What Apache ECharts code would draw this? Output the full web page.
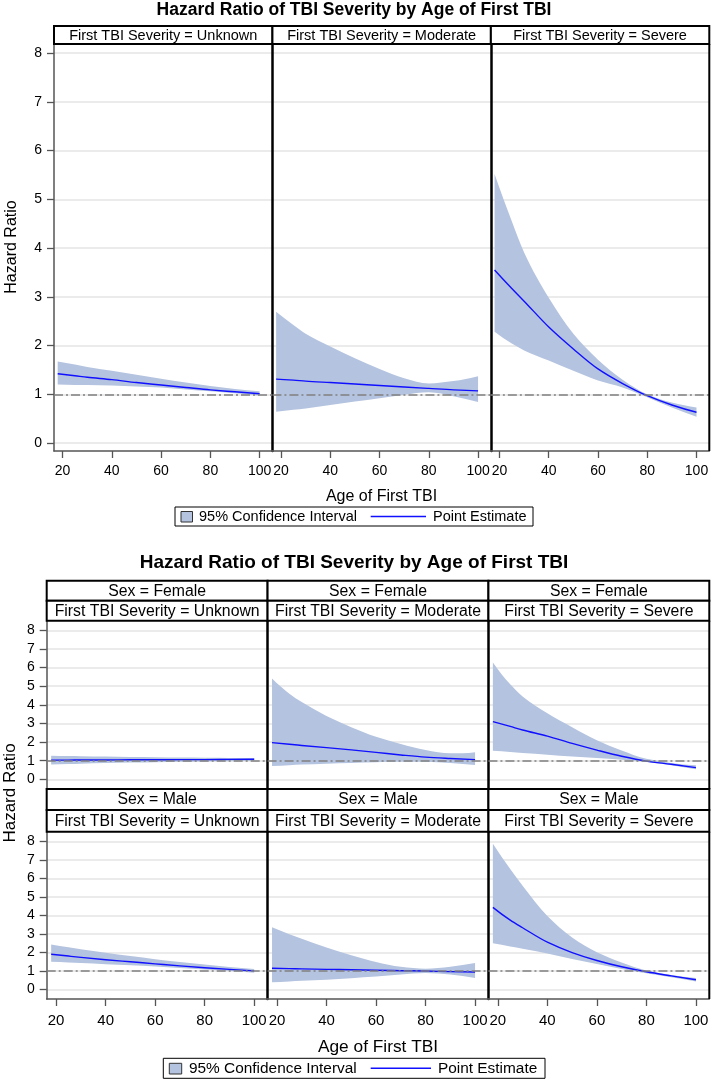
<!DOCTYPE html>
<html>
<head>
<meta charset="utf-8">
<script src="https://cdn.jsdelivr.net/npm/echarts@6/dist/echarts.min.js"></script>
<style>
html,body{margin:0;padding:0;background:#fff;}
#c{width:712px;height:1081px;}
</style>
</head>
<body>
<div id="c"></div>
<script>
// ================= DATA =================
const chartTitle = 'Hazard Ratio of TBI Severity by Age of First TBI';
const xAxisTitle = 'Age of First TBI';
const yAxisTitle = 'Hazard Ratio';
const severityLevels = ['Unknown', 'Moderate', 'Severe'];
const sexLevels = ['Female', 'Male'];
const legendLabels = ['95% Confidence Interval', 'Point Estimate'];
const ages = [18, 25, 30, 40, 50, 60, 70, 80, 90, 100];
const xTickValues = [20, 40, 60, 80, 100];
const yTickValues = [0, 1, 2, 3, 4, 5, 6, 7, 8];
const referenceHR = 1;

// Overall panels
const unkEst = [1.42, 1.38, 1.35, 1.30, 1.24, 1.19, 1.14, 1.09, 1.05, 1.01];
const unkLo  = [1.20, 1.19, 1.19, 1.18, 1.16, 1.14, 1.10, 1.06, 1.02, 0.97];
const unkHi  = [1.67, 1.61, 1.56, 1.48, 1.40, 1.32, 1.24, 1.17, 1.11, 1.06];
const modEst = [1.31, 1.29, 1.27, 1.24, 1.21, 1.18, 1.15, 1.12, 1.09, 1.07];
const modLo  = [0.64, 0.68, 0.71, 0.78, 0.85, 0.92, 0.99, 1.04, 0.96, 0.84];
const modHi  = [2.69, 2.42, 2.24, 1.98, 1.74, 1.52, 1.33, 1.22, 1.27, 1.37];
const sevEst = [3.55, 3.17, 2.91, 2.38, 1.93, 1.52, 1.22, 0.97, 0.78, 0.63];
const sevLo  = [2.28, 2.04, 1.90, 1.69, 1.48, 1.28, 1.14, 0.94, 0.73, 0.54];
const sevHi  = [5.52, 4.55, 3.91, 2.98, 2.24, 1.71, 1.30, 1.00, 0.83, 0.73];

// Female panels
const fUnkEst = [1.03, 1.03, 1.04, 1.04, 1.05, 1.05, 1.06, 1.06, 1.07, 1.08];
const fUnkLo  = [0.79, 0.82, 0.84, 0.87, 0.90, 0.92, 0.94, 0.96, 0.97, 0.98];
const fUnkHi  = [1.27, 1.25, 1.24, 1.22, 1.20, 1.19, 1.17, 1.16, 1.15, 1.14];
const fModEst = [1.97, 1.88, 1.82, 1.70, 1.58, 1.45, 1.31, 1.19, 1.12, 1.06];
const fModLo  = [0.72, 0.76, 0.79, 0.84, 0.88, 0.92, 0.94, 0.94, 0.88, 0.77];
const fModHi  = [5.41, 4.60, 4.15, 3.40, 2.80, 2.28, 1.90, 1.58, 1.40, 1.46];
const fSevEst = [3.10, 2.84, 2.65, 2.32, 1.93, 1.57, 1.24, 0.98, 0.81, 0.63];
const fSevLo  = [1.54, 1.47, 1.41, 1.32, 1.22, 1.14, 1.05, 0.93, 0.76, 0.54];
const fSevHi  = [6.28, 5.10, 4.45, 3.55, 2.80, 2.10, 1.55, 1.10, 0.88, 0.75];

// Male panels
const mUnkEst = [1.90, 1.80, 1.73, 1.60, 1.49, 1.38, 1.27, 1.17, 1.08, 1.00];
const mUnkLo  = [1.49, 1.45, 1.42, 1.36, 1.30, 1.24, 1.16, 1.08, 0.99, 0.90];
const mUnkHi  = [2.42, 2.27, 2.17, 1.98, 1.80, 1.63, 1.48, 1.34, 1.21, 1.10];
const mModEst = [1.14, 1.12, 1.11, 1.08, 1.06, 1.03, 1.01, 0.99, 0.96, 0.94];
const mModLo  = [0.38, 0.42, 0.46, 0.52, 0.60, 0.69, 0.80, 0.88, 0.80, 0.62];
const mModHi  = [3.36, 2.98, 2.73, 2.26, 1.85, 1.48, 1.22, 1.12, 1.22, 1.42];
const mSevEst = [4.43, 3.74, 3.33, 2.55, 1.99, 1.56, 1.22, 0.95, 0.73, 0.52];
const mSevLo  = [2.49, 2.32, 2.20, 1.94, 1.64, 1.37, 1.10, 0.87, 0.66, 0.43];
const mSevHi  = [7.87, 6.50, 5.60, 3.96, 2.80, 2.00, 1.45, 1.02, 0.78, 0.61];

// ================= STYLE / LAYOUT =================
const FONT = '"Liberation Sans", Arial, Helvetica, sans-serif';
const BAND = '#b4c3df';
const EST = '#1010ff';
const AXISGRAY = '#555555';

// monotone cubic (pixel space) -> bezier path commands, for drawing smooth curves
function smoothCmds(p) {
  const n = p.length, h = [], dl = [], m = [];
  if (n < 2) return '';
  for (let k = 0; k < n - 1; k++) { h[k] = p[k + 1][0] - p[k][0]; dl[k] = (p[k + 1][1] - p[k][1]) / h[k]; }
  const endSlope = (h0, h1, d0, d1) => {
    let s = ((2 * h0 + h1) * d0 - h0 * d1) / (h0 + h1);
    if (Math.sign(s) !== Math.sign(d0)) s = 0;
    else if (Math.sign(d0) !== Math.sign(d1) && Math.abs(s) > Math.abs(3 * d0)) s = 3 * d0;
    return s;
  };
  if (n === 2) { m[0] = dl[0]; m[1] = dl[0]; }
  else {
    m[0] = endSlope(h[0], h[1], dl[0], dl[1]);
    m[n - 1] = endSlope(h[n - 2], h[n - 3], dl[n - 2], dl[n - 3]);
  }
  for (let k = 1; k < n - 1; k++) {
    if (dl[k - 1] * dl[k] <= 0) m[k] = 0;
    else m[k] = 3 * (h[k - 1] + h[k]) / ((2 * h[k] + h[k - 1]) / dl[k - 1] + (h[k] + 2 * h[k - 1]) / dl[k]);
  }
  let s = '';
  for (let k = 0; k < n - 1; k++) {
    const a = p[k], b = p[k + 1], hh = h[k] / 3;
    s += ' C' + (a[0] + hh) + ' ' + (a[1] + m[k] * hh) + ' ' + (b[0] - hh) + ' ' + (b[1] - m[k + 1] * hh) + ' ' + b[0] + ' ' + b[1];
  }
  return s;
}

const chart = echarts.init(document.getElementById('c'), null, {renderer: 'canvas'});
const option = {
  animation: false,
  backgroundColor: '#ffffff',
  grid: [], xAxis: [], yAxis: [], series: [], graphic: []
};

function addPanel(rect, cfg, est, lo, hi, opts) {
  const gi = option.grid.length;
  option.grid.push({left: rect.left, top: rect.top, width: rect.width, height: rect.height,
    show: false, containLabel: false, outerBoundsMode: 'none'});
  option.xAxis.push({
    type: 'value', gridIndex: gi, min: cfg.xMin, max: cfg.xMax, splitNumber: 5,
    axisLine: {show: true, onZero: false, lineStyle: opts.xLine},
    axisTick: {show: opts.showX, length: 7, customValues: xTickValues, lineStyle: {color: AXISGRAY, width: 1.3}},
    axisLabel: {show: opts.showX, customValues: xTickValues, margin: cfg.xLabelMargin, fontSize: cfg.xLabelSize,
      color: '#000', fontFamily: FONT,
      formatter: v => xTickValues.includes(v) ? String(v) : ''},
    splitLine: {show: false}
  });
  option.yAxis.push({
    type: 'value', gridIndex: gi, min: cfg.yMin, max: cfg.yMax, splitNumber: 8,
    axisLine: {show: true, onZero: false, lineStyle: opts.yLine},
    axisTick: {show: opts.showY, length: 7, customValues: yTickValues, lineStyle: {color: AXISGRAY, width: 1.3}},
    axisLabel: {show: opts.showY, customValues: yTickValues, margin: 12, fontSize: cfg.yLabelSize,
      color: '#000', fontFamily: FONT,
      formatter: v => yTickValues.includes(v) ? String(v) : ''},
    splitLine: {show: true, lineStyle: {color: '#e4e4e4', width: 1.5}}
  });
  // confidence band, mapped through the axis scales
  option.series.push({
    type: 'custom', name: legendLabels[0], xAxisIndex: gi, yAxisIndex: gi, silent: true, z: 1,
    data: ages.map((a, i) => [a, lo[i], hi[i]]),
    encode: {x: 0, y: [1, 2]},
    renderItem: function (params, api) {
      if (params.dataIndex !== 0) return null;
      const up = ages.map((a, i) => api.coord([a, hi[i]]));
      const dn = ages.map((a, i) => api.coord([a, lo[i]])).reverse();
      const d = 'M' + up[0][0] + ' ' + up[0][1] + smoothCmds(up) +
        ' L' + dn[0][0] + ' ' + dn[0][1] + smoothCmds(dn) + ' Z';
      return {type: 'path', shape: {pathData: d}, style: {fill: BAND, stroke: null}};
    }
  });
  // point estimate curve
  option.series.push({
    type: 'custom', name: legendLabels[1], xAxisIndex: gi, yAxisIndex: gi, silent: true, z: 3,
    data: ages.map((a, i) => [a, est[i]]),
    encode: {x: 0, y: 1},
    renderItem: function (params, api) {
      if (params.dataIndex !== 0) return null;
      const p = ages.map((a, i) => api.coord([a, est[i]]));
      const d = 'M' + p[0][0] + ' ' + p[0][1] + smoothCmds(p);
      return {type: 'path', shape: {pathData: d}, style: {fill: null, stroke: EST, lineWidth: 1.4}};
    },
    markLine: {silent: true, symbol: ['none', 'none'], label: {show: false}, animation: false,
      lineStyle: {color: '#808080', width: 1.5, type: [9, 3, 2, 3]},
      data: [{yAxis: referenceHR}]}
  });
}

function gText(x, y, text, size, weight, extra) {
  return Object.assign({type: 'text', x: x, y: y, z: 120, silent: true,
    style: {text: text, fill: '#000', fontSize: size, fontFamily: FONT, fontWeight: weight || 'normal',
      align: 'center', verticalAlign: 'middle'}}, extra || {});
}
function gRect(x, y, w, h, fill, stroke, lw) {
  return {type: 'rect', z: 110, silent: true, shape: {x: x, y: y, width: w, height: h},
    style: {fill: fill, stroke: stroke, lineWidth: lw}};
}
function gLine(x1, y1, x2, y2, stroke, lw) {
  return {type: 'line', z: 110, silent: true, shape: {x1: x1, y1: y1, x2: x2, y2: y2},
    style: {stroke: stroke, lineWidth: lw}};
}
function addLegend(box, sq, txt1x, ln, txt2x, size) {
  option.graphic.push(gRect(box.x, box.y, box.w, box.h, '#fff', '#000', 1));
  option.graphic.push(gRect(sq.x, sq.y, sq.w, sq.h, BAND, '#333', 1));
  option.graphic.push({type: 'text', x: txt1x, y: box.y + box.h / 2, z: 120, silent: true,
    style: {text: legendLabels[0], fill: '#000', fontSize: size, fontFamily: FONT, align: 'left', verticalAlign: 'middle'}});
  option.graphic.push(gLine(ln.x1, ln.y, ln.x2, ln.y, EST, 1.4));
  option.graphic.push({type: 'text', x: txt2x, y: box.y + box.h / 2, z: 120, silent: true,
    style: {text: legendLabels[1], fill: '#000', fontSize: size, fontFamily: FONT, align: 'left', verticalAlign: 'middle'}});
}

// ---------- Top chart (overall) ----------
const topCfg = {x0: 54, x1: 709.3, plotTop: 44, plotBottom: 451, headerTop: 26,
  yMin: -0.164, yMax: 8.185, xMin: 16.5, xMax: 105.2, xLabelMargin: 13, xLabelSize: 14, yLabelSize: 14};
const topData = [[unkEst, unkLo, unkHi], [modEst, modLo, modHi], [sevEst, sevLo, sevHi]];
{
  const w = (topCfg.x1 - topCfg.x0) / 3;
  for (let i = 0; i < 3; i++) {
    const left = topCfg.x0 + i * w;
    addPanel({left: left, top: topCfg.plotTop, width: w, height: topCfg.plotBottom - topCfg.plotTop}, topCfg,
      topData[i][0], topData[i][1], topData[i][2],
      {showX: true, showY: i === 0,
       xLine: {color: AXISGRAY, width: 1.5},
       yLine: i === 0 ? {color: AXISGRAY, width: 1.5} : {color: '#000', width: 2.5}});
    option.graphic.push(gRect(left, topCfg.headerTop, w, topCfg.plotTop - topCfg.headerTop, '#fff', '#000', 2));
    option.graphic.push(gText(left + w / 2, (topCfg.headerTop + topCfg.plotTop) / 2 + 0.5,
      'First TBI Severity = ' + severityLevels[i], 14.5));
  }
  option.graphic.push(gLine(topCfg.x1, topCfg.plotTop, topCfg.x1, topCfg.plotBottom, '#000', 2));
  option.graphic.push(gText(354, 10, chartTitle, 17.5, 'bold'));
  option.graphic.push(gText(381.5, 497, xAxisTitle, 16));
  option.graphic.push(gText(12, 247, yAxisTitle, 16, 'normal', {rotation: Math.PI / 2}));
  addLegend({x: 175, y: 507, w: 358, h: 19}, {x: 181, y: 511.5, w: 11.5, h: 10.5}, 199,
    {x1: 370.7, x2: 426, y: 516.5}, 433, 14.5);
}

// ---------- Bottom chart (by sex) ----------
const botCfg = {x0: 46.7, x1: 709.3, yMin: -0.52, yMax: 8.52, xMin: 16.2, xMax: 105.4,
  xLabelMargin: 14, xLabelSize: 15, yLabelSize: 14,
  rows: [{hTop: 580.7, hMid: 600.7, plotTop: 620.7, plotBottom: 789},
         {hTop: 789, hMid: 810, plotTop: 831.7, plotBottom: 999}]};
const botData = [
  [[fUnkEst, fUnkLo, fUnkHi], [fModEst, fModLo, fModHi], [fSevEst, fSevLo, fSevHi]],
  [[mUnkEst, mUnkLo, mUnkHi], [mModEst, mModLo, mModHi], [mSevEst, mSevLo, mSevHi]]
];
{
  const w = (botCfg.x1 - botCfg.x0) / 3;
  for (let r = 0; r < 2; r++) {
    const row = botCfg.rows[r];
    for (let i = 0; i < 3; i++) {
      const left = botCfg.x0 + i * w;
      const d = botData[r][i];
      addPanel({left: left, top: row.plotTop, width: w, height: row.plotBottom - row.plotTop}, botCfg,
        d[0], d[1], d[2],
        {showX: r === 1, showY: i === 0,
         xLine: r === 1 ? {color: AXISGRAY, width: 1.5} : {color: '#000', width: 2},
         yLine: i === 0 ? {color: AXISGRAY, width: 1.5} : {color: '#000', width: 2.5}});
      option.graphic.push(gRect(left, row.hTop, w, row.hMid - row.hTop, '#fff', '#000', 2));
      option.graphic.push(gRect(left, row.hMid, w, row.plotTop - row.hMid, '#fff', '#000', 2));
      option.graphic.push(gText(left + w / 2, (row.hTop + row.hMid) / 2 + 0.5, 'Sex = ' + sexLevels[r], 15.8));
      option.graphic.push(gText(left + w / 2, (row.hMid + row.plotTop) / 2 + 0.5,
        'First TBI Severity = ' + severityLevels[i], 15.8));
    }
    option.graphic.push(gLine(botCfg.x1, row.plotTop, botCfg.x1, row.plotBottom, '#000', 2));
  }
  option.graphic.push(gText(354, 562.7, chartTitle, 19, 'bold'));
  option.graphic.push(gText(378, 1047, xAxisTitle, 17.3));
  option.graphic.push(gText(10, 793, yAxisTitle, 17, 'normal', {rotation: Math.PI / 2}));
  addLegend({x: 163.3, y: 1058.3, w: 381.7, h: 20}, {x: 169.3, y: 1063.3, w: 12.4, h: 10.7}, 189,
    {x1: 370.7, x2: 431, y: 1068.3}, 438, 15.4);
}

chart.setOption(option);
</script>
</body>
</html>
